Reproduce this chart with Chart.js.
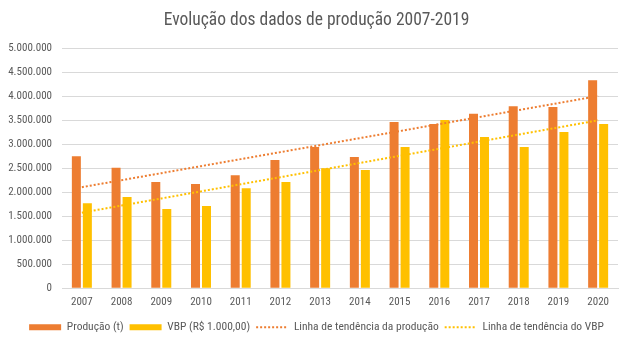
<!DOCTYPE html>
<html>
<head>
<meta charset="utf-8">
<script src="https://cdn.jsdelivr.net/npm/chart.js@4"></script>
<style>
  html, body { margin: 0; padding: 0; background: #fff; }
  #wrap { width: 633px; height: 348px; }
</style>
</head>
<body>
<div id="wrap"><canvas id="producaoChart"></canvas></div>
<script>
const anos = ['2007', '2008', '2009', '2010', '2011', '2012', '2013', '2014', '2015', '2016', '2017', '2018', '2019', '2020']
const producao = [2750000, 2510000, 2210000, 2170000, 2350000, 2670000, 2940000, 2730000, 3460000, 3420000, 3630000, 3790000, 3770000, 4330000]
const vbp = [1770000, 1900000, 1650000, 1710000, 2080000, 2210000, 2500000, 2460000, 2940000, 3500000, 3150000, 2940000, 3250000, 3420000]

const LARANJA = '#ED7D31'
const AMARELO = '#FFC000'
const CINZA = '#595959'
const FONTE = '"Roboto Condensed", sans-serif'

// linha de tendência linear (mínimos quadrados), como no Excel
const tendencia = (valores) => {
    const n = valores.length
    const mx = (n - 1) / 2
    const my = valores.reduce((a, b) => a + b, 0) / n
    let sxy = 0
    let sxx = 0
    valores.forEach((v, i) => {
        sxy += (i - mx) * (v - my)
        sxx += (i - mx) * (i - mx)
    })
    const b = sxy / sxx
    return valores.map((v, i) => my + b * (i - mx))
}

const formatar = (v) => v === 0 ? '0' : String(v).replace(/\B(?=(\d{3})+(?!\d))/g, '.')

const init = () => {
    const canvas = document.getElementById('producaoChart')
    if (canvas === null) {
        return
    }

    new Chart(canvas, {
        type: 'bar',
        data: {
            labels: anos,
            datasets: [{
                label: 'Produção (t)',
                data: producao,
                backgroundColor: LARANJA,
                categoryPercentage: 0.554,
                barPercentage: 0.818,
                order: 1
            }, {
                label: 'VBP (R$ 1.000,00)',
                data: vbp,
                backgroundColor: AMARELO,
                categoryPercentage: 0.554,
                barPercentage: 0.818,
                order: 1
            }, {
                type: 'line',
                label: 'Linha de tendência da produção',
                data: tendencia(producao),
                borderColor: LARANJA,
                borderWidth: 2,
                borderDash: [2, 2],
                pointRadius: 0,
                fill: false,
                order: 0
            }, {
                type: 'line',
                label: 'Linha de tendência do VBP',
                data: tendencia(vbp),
                borderColor: AMARELO,
                borderWidth: 2,
                borderDash: [2, 2],
                pointRadius: 0,
                fill: false,
                order: 0
            }]
        },
        options: {
            responsive: true,
            maintainAspectRatio: false,
            animation: false,
            layout: { padding: { left: 0, right: 0, top: 10, bottom: 5 } },
            plugins: {
                tooltip: { enabled: false },
                title: {
                    display: true,
                    text: 'Evolução dos dados de produção 2007-2019',
                    color: CINZA,
                    font: { family: FONTE, size: 17.5, weight: 'normal' },
                    padding: { top: 0, bottom: 17 }
                },
                legend: {
                    position: 'bottom',
                    labels: {
                        color: CINZA,
                        font: { family: FONTE, size: 11.5 },
                        usePointStyle: true,
                        pointStyleWidth: 32,
                        boxHeight: 6,
                        padding: 6,
                        generateLabels: (chart) => chart.data.datasets.map((ds, i) => {
                            const linha = ds.type === 'line'
                            return {
                                text: ds.label,
                                datasetIndex: i,
                                fontColor: CINZA,
                                pointStyle: linha ? 'line' : 'rect',
                                fillStyle: linha ? 'transparent' : ds.backgroundColor,
                                strokeStyle: linha ? ds.borderColor : ds.backgroundColor,
                                lineWidth: linha ? 2 : 0,
                                lineDash: linha ? [2, 2] : []
                            }
                        })
                    }
                }
            },
            scales: {
                x: {
                    grid: { display: false, drawTicks: false },
                    border: { color: '#D9D9D9' },
                    ticks: { color: CINZA, font: { family: FONTE, size: 11 }, padding: 7 }
                },
                y: {
                    min: 0,
                    max: 5000000,
                    afterFit: (scale) => { scale.width = 62 },
                    grid: { color: '#D9D9D9', drawTicks: false },
                    border: { display: false },
                    ticks: {
                        stepSize: 500000,
                        color: CINZA,
                        font: { family: FONTE, size: 11 },
                        padding: 10,
                        callback: (v) => formatar(v)
                    }
                },
                // margem direita vazia da área de plotagem
                margem: {
                    position: 'right',
                    afterFit: (scale) => { scale.width = 15 },
                    grid: { display: false },
                    border: { display: false },
                    ticks: { display: false }
                }
            }
        }
    })
}

init()
</script>
</body>
</html>
